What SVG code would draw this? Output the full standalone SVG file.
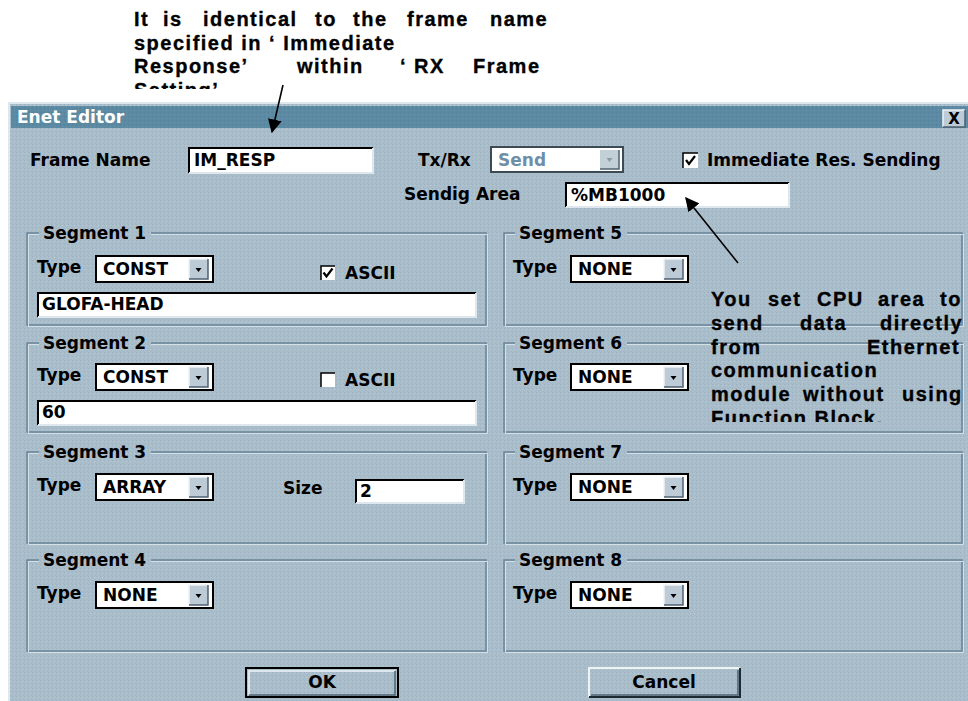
<svg xmlns="http://www.w3.org/2000/svg" width="968" height="701" viewBox="0 0 968 701">
<style>
.ui{font-family:"DejaVu Sans","Liberation Sans",Arial,sans-serif;font-weight:bold;font-size:17px;fill:#000}
.note{font-family:"Liberation Sans",Arial,sans-serif;font-weight:bold;font-size:20px;letter-spacing:1.5px;fill:#000;stroke:#000;stroke-width:0.35}
.gd{fill:none;stroke:#6a8598;stroke-width:1.5}
.gl{fill:none;stroke:#d4e0e8;stroke-width:1}
.fw{fill:#fff}
.sk{fill:none;stroke:#000;stroke-width:2}
.hl{fill:none;stroke:#dde7ed;stroke-width:2}
.cb{fill:#fff;stroke:#000;stroke-width:2}
.btnf{fill:#bccbd5}
.sh{fill:none;stroke:#4e6272;stroke-width:1.5}
.lt{fill:none;stroke:#eef3f6;stroke-width:1.5}
.arr{stroke:#000;stroke-width:1.6;fill:none}
</style>
<defs>
<pattern id="dith" width="4" height="4" patternUnits="userSpaceOnUse">
<rect width="4" height="4" fill="#a9bdcb"/>
<rect x="0" y="0" width="1" height="1" fill="#9bb2c4"/>
<rect x="2" y="1" width="1" height="1" fill="#b9c9d2"/>
<rect x="1" y="2" width="1" height="1" fill="#afb8cc"/>
<rect x="3" y="3" width="1" height="1" fill="#a0bac4"/>
</pattern>
<pattern id="dithT" width="4" height="4" patternUnits="userSpaceOnUse">
<rect width="4" height="4" fill="#5c8aa3"/>
<rect x="0" y="0" width="1" height="1" fill="#52809a"/>
<rect x="2" y="2" width="1" height="1" fill="#6894ab"/>
</pattern>
<g id="ddbtn">
<rect x="0" y="0" width="19" height="20" class="btnf"/>
<path d="M0,20 V0 H19" class="lt"/>
<path d="M0,20 H19 V0" class="sh"/>
<path d="M6.5,9 H12.5 L9.5,13 Z" fill="#000"/>
</g>
<marker id="ah2" viewBox="0 0 10 10" refX="9" refY="5" markerWidth="14" markerHeight="14" orient="auto" markerUnits="userSpaceOnUse">
<path d="M0,0 L10,5 L0,10 Z" fill="#000"/>
</marker>
<clipPath id="clipTop"><rect x="0" y="0" width="968" height="89"/></clipPath>
<clipPath id="clipRight"><rect x="690" y="280" width="278" height="142"/></clipPath>
</defs>

<rect width="968" height="701" fill="#fff"/>

<!-- Dialog frame -->
<g id="dialog">
<rect x="8" y="102" width="962" height="602" fill="url(#dith)"/>
<path d="M9,702 V103 H968" fill="none" stroke="#dde8ee" stroke-width="2"/>
<rect x="11" y="106" width="957" height="22" fill="url(#dithT)"/>
<text x="17" y="123" class="ui" style="fill:#fff">Enet Editor</text>
<g id="closebtn">
<rect x="943" y="110" width="22" height="17" class="btnf"/>
<path d="M943,127 V110 H965" class="lt"/>
<path d="M943,127 H965 V110" class="sh"/>
<text x="954" y="124" class="ui" text-anchor="middle" style="font-size:15px">X</text>
</g>
</g>

<!-- Header fields -->
<g id="frame-name">
<text x="30" y="166" class="ui">Frame Name</text>
<rect x="188" y="147" width="185" height="26" class="fw"/>
<path d="M189,173 V148 H373" class="sk"/>
<path d="M189,173 H373 V148" class="hl"/>
<text x="194" y="166" class="ui">IM_RESP</text>
</g>
<g id="txrx">
<text x="418" y="166" class="ui">Tx/Rx</text>
<rect x="491" y="147" width="132" height="25" fill="#fff" stroke="#3c4a56" stroke-width="2"/>
<text x="498" y="166" class="ui" style="fill:#6f8fa6">Send</text>
<rect x="600" y="150" width="19" height="19" fill="#c4d0d8"/>
<path d="M600,169 H619 V150" class="sh"/>
<path d="M606.5,158 H612.5 L609.5,162 Z" fill="#8a9ca8"/>
</g>
<g id="immediate">
<rect x="683" y="153" width="15" height="15" fill="#fff"/>
<path d="M683,168 V153 H698" fill="none" stroke="#000" stroke-width="1.5"/>
<path d="M686,160 L689,164 L695,156" fill="none" stroke="#000" stroke-width="2.2"/>
<text x="707" y="166" class="ui">Immediate Res. Sending</text>
</g>
<g id="sendig-area">
<text x="404" y="200" class="ui">Sendig Area</text>
<rect x="565" y="182" width="224" height="25" class="fw"/>
<path d="M566,207 V183 H789" class="sk"/>
<path d="M566,207 H789 V183" class="hl"/>
<text x="571" y="201" class="ui">%MB1000</text>
</g>

<!-- Segment 1 -->
<g id="segment1">
<path d="M39,233 H27 V325 H486 V233 H151" class="gd"/>
<path d="M39,234.5 H28.5 V326.5 H487.5 V234.5 H151" class="gl"/>
<text x="43" y="239" class="ui">Segment 1</text>
<text x="37" y="273" class="ui">Type</text>
<rect x="96" y="256" width="117" height="26" class="cb"/>
<text x="103" y="275" class="ui">CONST</text>
<use href="#ddbtn" x="189" y="259"/>
<rect x="321" y="266" width="14" height="14" fill="#fff"/>
<path d="M321,280 V266 H335" fill="none" stroke="#000" stroke-width="1.5"/>
<path d="M323.5,272.5 L326.5,276.5 L332.5,268.5" fill="none" stroke="#000" stroke-width="2.2"/>
<text x="345" y="279" class="ui">ASCII</text>
<rect x="37" y="292" width="439" height="25" class="fw"/>
<path d="M38,317 V293 H476" class="sk"/>
<path d="M38,317 H476 V293" class="hl"/>
<text x="42" y="310" class="ui">GLOFA-HEAD</text>
</g>

<!-- Segment 2 -->
<g id="segment2">
<path d="M39,343 H27 V432 H486 V343 H151" class="gd"/>
<path d="M39,344.5 H28.5 V433.5 H487.5 V344.5 H151" class="gl"/>
<text x="43" y="349" class="ui">Segment 2</text>
<text x="37" y="381" class="ui">Type</text>
<rect x="96" y="364" width="117" height="26" class="cb"/>
<text x="103" y="383" class="ui">CONST</text>
<use href="#ddbtn" x="189" y="367"/>
<rect x="321" y="373" width="14" height="14" fill="#fff"/>
<path d="M321,387 V373 H335" fill="none" stroke="#000" stroke-width="1.5"/>
<text x="345" y="386" class="ui">ASCII</text>
<rect x="37" y="400" width="439" height="25" class="fw"/>
<path d="M38,425 V401 H476" class="sk"/>
<path d="M38,425 H476 V401" class="hl"/>
<text x="42" y="418" class="ui">60</text>
</g>

<!-- Segment 3 -->
<g id="segment3">
<path d="M39,452 H27 V543 H486 V452 H151" class="gd"/>
<path d="M39,453.5 H28.5 V544.5 H487.5 V453.5 H151" class="gl"/>
<text x="43" y="458" class="ui">Segment 3</text>
<text x="37" y="491" class="ui">Type</text>
<rect x="96" y="474" width="117" height="26" class="cb"/>
<text x="103" y="493" class="ui">ARRAY</text>
<use href="#ddbtn" x="189" y="477"/>
<text x="283" y="494" class="ui">Size</text>
<rect x="355" y="479" width="109" height="24" class="fw"/>
<path d="M356,503 V480 H464" class="sk"/>
<path d="M356,503 H464 V480" class="hl"/>
<text x="360" y="497" class="ui">2</text>
</g>

<!-- Segment 4 -->
<g id="segment4">
<path d="M39,560 H27 V651 H486 V560 H151" class="gd"/>
<path d="M39,561.5 H28.5 V652.5 H487.5 V561.5 H151" class="gl"/>
<text x="43" y="566" class="ui">Segment 4</text>
<text x="37" y="599" class="ui">Type</text>
<rect x="96" y="582" width="117" height="26" class="cb"/>
<text x="103" y="601" class="ui">NONE</text>
<use href="#ddbtn" x="189" y="585"/>
</g>

<!-- Segment 5 -->
<g id="segment5">
<path d="M515,233 H504 V325 H962 V233 H627" class="gd"/>
<path d="M515,234.5 H505.5 V326.5 H963.5 V234.5 H627" class="gl"/>
<text x="519" y="239" class="ui">Segment 5</text>
<text x="513" y="273" class="ui">Type</text>
<rect x="571" y="256" width="117" height="26" class="cb"/>
<text x="578" y="275" class="ui">NONE</text>
<use href="#ddbtn" x="664" y="259"/>
</g>

<!-- Segment 6 -->
<g id="segment6">
<path d="M515,343 H504 V432 H962 V343 H627" class="gd"/>
<path d="M515,344.5 H505.5 V433.5 H963.5 V344.5 H627" class="gl"/>
<text x="519" y="349" class="ui">Segment 6</text>
<text x="513" y="381" class="ui">Type</text>
<rect x="571" y="364" width="117" height="26" class="cb"/>
<text x="578" y="383" class="ui">NONE</text>
<use href="#ddbtn" x="664" y="367"/>
</g>

<!-- Segment 7 -->
<g id="segment7">
<path d="M515,452 H504 V543 H962 V452 H627" class="gd"/>
<path d="M515,453.5 H505.5 V544.5 H963.5 V453.5 H627" class="gl"/>
<text x="519" y="458" class="ui">Segment 7</text>
<text x="513" y="491" class="ui">Type</text>
<rect x="571" y="474" width="117" height="26" class="cb"/>
<text x="578" y="493" class="ui">NONE</text>
<use href="#ddbtn" x="664" y="477"/>
</g>

<!-- Segment 8 -->
<g id="segment8">
<path d="M515,560 H504 V651 H962 V560 H627" class="gd"/>
<path d="M515,561.5 H505.5 V652.5 H963.5 V561.5 H627" class="gl"/>
<text x="519" y="566" class="ui">Segment 8</text>
<text x="513" y="599" class="ui">Type</text>
<rect x="571" y="582" width="117" height="26" class="cb"/>
<text x="578" y="601" class="ui">NONE</text>
<use href="#ddbtn" x="664" y="585"/>
</g>

<!-- Buttons -->
<g id="ok-button">
<rect x="246" y="668" width="152" height="29" fill="none" stroke="#000" stroke-width="2"/>
<path d="M249,695 V671 H395" class="lt"/>
<path d="M249,695 H395 V671" class="sh"/>
<text x="322" y="688" class="ui" text-anchor="middle">OK</text>
</g>
<g id="cancel-button">
<path d="M589,697 V668 H740" fill="none" stroke="#eef3f6" stroke-width="2"/>
<path d="M589,697 H740 V668" fill="none" stroke="#1e2a32" stroke-width="2"/>
<path d="M591,695 H738 V670" class="sh"/>
<text x="664" y="688" class="ui" text-anchor="middle">Cancel</text>
</g>

<!-- Annotations -->
<g id="note-top" clip-path="url(#clipTop)">
<text class="note" y="26"><tspan x="134">It</tspan><tspan x="163">is</tspan><tspan x="203">identical</tspan><tspan x="315">to</tspan><tspan x="353">the</tspan><tspan x="407">frame</tspan><tspan x="490">name</tspan></text>
<text class="note" x="134" y="50">specified in ‘ Immediate</text>
<text class="note" y="73"><tspan x="134">Response’</tspan><tspan x="297">within</tspan><tspan x="400">‘ RX</tspan><tspan x="473">Frame</tspan></text>
<text class="note" x="134" y="97">Setting’</text>
</g>
<g id="note-right" clip-path="url(#clipRight)">
<text class="note" y="306"><tspan x="711">You</tspan><tspan x="768">set</tspan><tspan x="817">CPU</tspan><tspan x="878">area</tspan><tspan x="940">to</tspan></text>
<text class="note" y="330"><tspan x="711">send</tspan><tspan x="800">data</tspan><tspan x="880">directly</tspan></text>
<text class="note" y="354"><tspan x="711">from</tspan><tspan x="867">Ethernet</tspan></text>
<text class="note" x="711" y="377">communication</text>
<text class="note" y="401"><tspan x="711">module</tspan><tspan x="803">without</tspan><tspan x="902">using</tspan></text>
<text class="note" x="711" y="425">Function Block.</text>
</g>

<g id="connectors">
<line x1="283" y1="85" x2="272" y2="132" class="arr" marker-end="url(#ah2)"/>
<line x1="738" y1="263" x2="686" y2="198" class="arr" marker-end="url(#ah2)"/>
</g>
</svg>
